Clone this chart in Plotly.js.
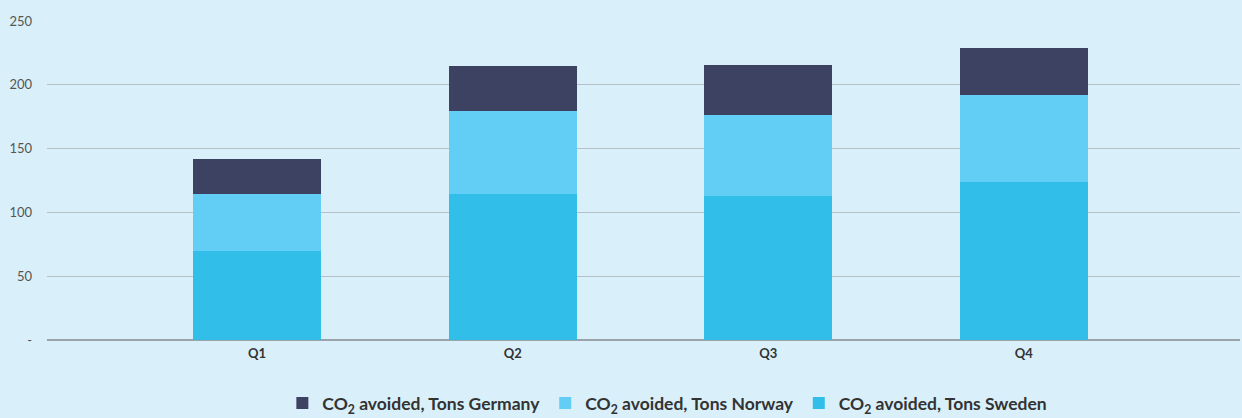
<!DOCTYPE html>
<html>
<head>
<meta charset="utf-8">
<script src="https://cdn.plot.ly/plotly-3.0.1.min.js"></script>
<style>html,body{margin:0;padding:0;background:#d9f0fa;}#chart{width:1242px;height:418px;}</style>
</head>
<body>
<div id="chart"></div>
<script>
const categories = ["Q1", "Q2", "Q3", "Q4"];
const sweden = [70, 114.5, 113, 124];
const norway = [44.5, 65, 63.5, 68];
const germany = [27.5, 35, 39, 37];
const seriesNames = ["CO<sub>2</sub> avoided, Tons Sweden", "CO<sub>2</sub> avoided, Tons Norway", "CO<sub>2</sub> avoided, Tons Germany"];
const yTickVals = [0, 50, 100, 150, 200, 250];
const yTickText = ["-", "50", "100", "150", "200", "250"];

const colors = ["#31bfea", "#62cdf5", "#3d4162"];
const data = [sweden, norway, germany].map((vals, i) => ({
  type: "bar",
  x: categories,
  y: vals,
  name: seriesNames[i],
  width: 0.5,
  marker: {color: colors[i], line: {width: 0}},
  hoverinfo: "y+name"
}));

const layout = {
  width: 1242,
  height: 418,
  paper_bgcolor: "#d9f0fa",
  plot_bgcolor: "#d9f0fa",
  barmode: "stack",
  margin: {l: 47, r: 2, t: 21, b: 78, autoexpand: false},
  font: {family: "Lato, 'Noto Sans', sans-serif", color: "#333"},
  xaxis: {
    range: [-0.822, 3.846],
    showgrid: false,
    zeroline: false,
    showline: false,
    ticks: "",
    automargin: false,
    tickfont: {size: 13, color: "#333", weight: "bold"},
    ticklabelstandoff: 4
  },
  yaxis: {
    range: [0, 250],
    tickvals: yTickVals,
    ticktext: yTickText,
    showgrid: true,
    gridcolor: "#b5c0c7",
    gridwidth: 1.3,
    zeroline: true,
    zerolinecolor: "#9aa3a9",
    zerolinewidth: 1.5,
    showline: false,
    ticks: "",
    automargin: false,
    tickfont: {size: 13, color: "#555"},
    ticklabelstandoff: 14
  },
  legend: {
    orientation: "h",
    x: 0.52,
    xanchor: "center",
    y: -0.198,
    yanchor: "middle",
    traceorder: "reversed",
    font: {size: 17.5, color: "#333", weight: "bold"},
    itemwidth: 30,
    bgcolor: "rgba(0,0,0,0)"
  },
  showlegend: true
};

Plotly.newPlot("chart", data, layout, {displayModeBar: false, staticPlot: true});
</script>
</body>
</html>
